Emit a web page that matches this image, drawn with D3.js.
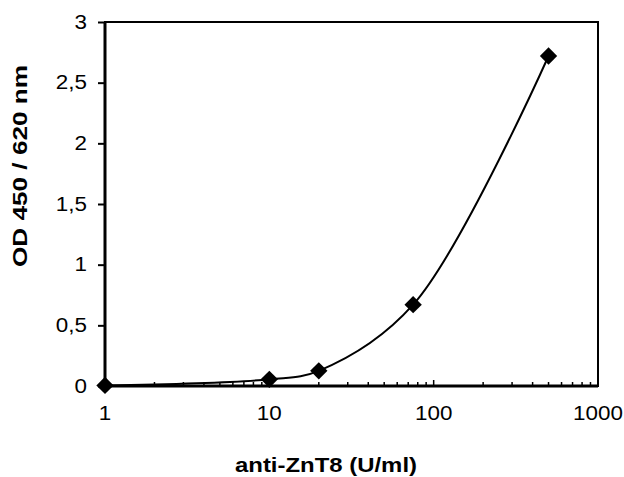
<!DOCTYPE html>
<html>
<head>
<meta charset="utf-8">
<script src="https://cdn.jsdelivr.net/npm/d3@7"></script>
<style>
  body { margin: 0; background: #fff; }
  svg { display: block; font-family: Arial, "Liberation Sans", sans-serif; }
</style>
</head>
<body>
<svg id="chart" width="624" height="477"></svg>
<script>
// data
const concentrations = [1, 10, 20, 75, 500];      // U/ml
const odValues = [0.005, 0.055, 0.125, 0.67, 2.72];
const xTickValues = [1, 10, 100, 1000];
const yTickValues = [0, 0.5, 1, 1.5, 2, 2.5, 3];
const xTitle = "anti-ZnT8 (U/ml)";
const yTitle = "OD 450 / 620 nm";

const svg = d3.select("#chart");
const plot = { left: 105, right: 598, top: 22, bottom: 386 };

const x = d3.scaleLog().domain([1, 1000]).range([plot.left, plot.right]);
const y = d3.scaleLinear().domain([0, 3]).range([plot.bottom, plot.top]);

// widen tick labels a bit, the reference font is stretched horizontally
function stretch(sel, f) {
  sel.each(function() {
    const w = this.getComputedTextLength();
    d3.select(this).attr("textLength", w * f).attr("lengthAdjust", "spacingAndGlyphs");
  });
}

// y axis
const yAxis = svg.append("g")
  .attr("transform", `translate(${plot.left},0)`)
  .call(d3.axisLeft(y).tickValues(yTickValues).tickSize(7).tickPadding(11)
    .tickFormat(d => String(d).replace(".", ",")));
yAxis.select(".domain").remove();
yAxis.selectAll(".tick line").attr("stroke", "#000").attr("stroke-width", 2);
yAxis.selectAll(".tick text").attr("font-size", 20).attr("fill", "#000").attr("dy", "0.3em")
  .call(stretch, 1.12);

// x axis: minor ticks point inward
const minorTicks = [];
[1, 10, 100].forEach(base => { for (let k = 2; k <= 9; k++) minorTicks.push(base * k); });

svg.append("g").selectAll("line.minor")
  .data(minorTicks)
  .join("line")
  .attr("x1", d => x(d)).attr("x2", d => x(d))
  .attr("y1", plot.bottom).attr("y2", plot.bottom - 4)
  .attr("stroke", "#000").attr("stroke-width", 1.5);

svg.append("g").selectAll("line.major")
  .data(xTickValues)
  .join("line")
  .attr("x1", d => x(d)).attr("x2", d => x(d))
  .attr("y1", plot.bottom).attr("y2", plot.bottom - 6)
  .attr("stroke", "#000").attr("stroke-width", 1.5);

svg.append("g").selectAll("text")
  .data(xTickValues)
  .join("text")
  .attr("x", d => x(d))
  .attr("y", plot.bottom + 34)
  .attr("text-anchor", "middle")
  .attr("font-size", 20)
  .text(d => d)
  .call(stretch, 1.12);

// plot frame
svg.append("rect")
  .attr("x", plot.left).attr("y", plot.top)
  .attr("width", plot.right - plot.left).attr("height", plot.bottom - plot.top)
  .attr("fill", "none").attr("stroke", "#000").attr("stroke-width", 2);
svg.append("line")
  .attr("x1", plot.left).attr("x2", plot.left).attr("y1", plot.top).attr("y2", plot.bottom)
  .attr("stroke", "#000").attr("stroke-width", 3);
svg.append("line")
  .attr("x1", plot.left).attr("x2", plot.right).attr("y1", plot.bottom).attr("y2", plot.bottom)
  .attr("stroke", "#000").attr("stroke-width", 3);

// smoothed line + diamonds
const points = concentrations.map((c, i) => [c, odValues[i]]);
const line = d3.line()
  .x(d => x(d[0])).y(d => y(d[1]))
  .curve(d3.curveCatmullRom.alpha(0.5));

svg.append("path")
  .datum(points)
  .attr("d", line)
  .attr("fill", "none")
  .attr("stroke", "#000")
  .attr("stroke-width", 2);

svg.append("g").selectAll("path")
  .data(points)
  .join("path")
  .attr("d", d3.symbol(d3.symbolSquare, 150))
  .attr("transform", d => `translate(${x(d[0])},${y(d[1])}) rotate(45)`)
  .attr("fill", "#000");

// axis titles
svg.append("text")
  .attr("x", 326).attr("y", 472)
  .attr("text-anchor", "middle")
  .attr("font-size", 20).attr("font-weight", "bold")
  .attr("textLength", 182).attr("lengthAdjust", "spacingAndGlyphs")
  .text(xTitle);

svg.append("text")
  .attr("transform", "translate(27,166) rotate(-90)")
  .attr("text-anchor", "middle")
  .attr("font-size", 21).attr("font-weight", "bold")
  .attr("textLength", 202).attr("lengthAdjust", "spacingAndGlyphs")
  .text(yTitle);
</script>
</body>
</html>
